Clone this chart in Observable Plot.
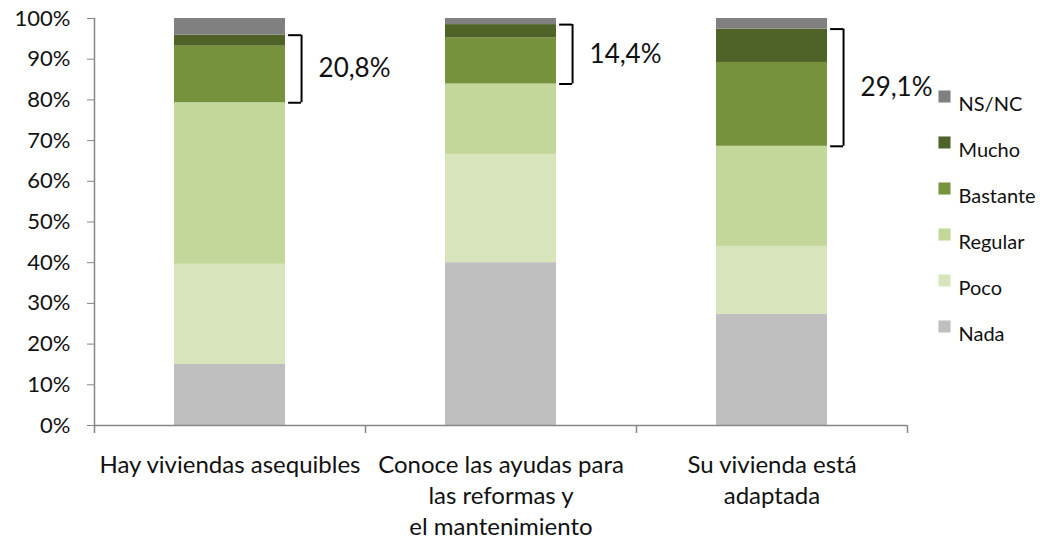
<!DOCTYPE html>
<html>
<head>
<meta charset="utf-8">
<script src="https://cdn.jsdelivr.net/npm/d3@7"></script>
<script src="https://cdn.jsdelivr.net/npm/@observablehq/plot@0.6"></script>
<style>
  body { margin: 0; background: #fff; }
  #chart svg { overflow: visible; display: block; }
</style>
</head>
<body>
<div id="chart"></div>
<script>
// ---- data ----
const categories = [
  "Hay viviendas asequibles",
  "Conoce las ayudas para\nlas reformas y\nel mantenimiento",
  "Su vivienda está\nadaptada"
];
const series = ["Nada", "Poco", "Regular", "Bastante", "Mucho", "NS/NC"];
const colors = ["#BFBFBF", "#D8E4BC", "#C4D79B", "#76923C", "#4F6228", "#808080"];
const nada     = [15.0, 40.0, 27.3];
const poco     = [24.6, 26.6, 16.7];
const regular  = [39.7, 17.3, 24.6];
const bastante = [13.9, 11.3, 20.6];
const mucho    = [ 2.7,  3.3,  8.2];
const nsnc     = [ 4.1,  1.5,  2.6];
const bracketLabels = ["20,8%", "14,4%", "29,1%"];
const yTicks = [0, 10, 20, 30, 40, 50, 60, 70, 80, 90, 100];

// ---- build table ----
const seriesValues = [nada, poco, regular, bastante, mucho, nsnc];
const rows = [];
categories.forEach((c, i) => {
  series.forEach((s, j) => rows.push({cat: c, series: s, value: seriesValues[j][i]}));
});
const brackets = categories.map((c, i) => {
  const low = nada[i] + poco[i] + regular[i];
  const high = low + bastante[i] + mucho[i];
  return {cat: c, low, high, mid: (low + high) / 2, label: bracketLabels[i]};
});
const bracketEnds = brackets.flatMap(b => [{cat: b.cat, v: b.low}, {cat: b.cat, v: b.high}]);

// ---- layout ----
const W = 1040, H = 541;
const mL = 94, mR = 133, mT = 18, mB = 116;
const padInner = 0.59, padOuter = padInner / 2;
const step = (W - mL - mR) / categories.length;
const bw = step * (1 - padInner);
const axisGray = "#868686";
const font = "Lato, 'Open Sans', sans-serif";

const legendMarks = [];
[...series].reverse().forEach((s, k) => {
  const dy = 78 + k * 46;
  legendMarks.push(Plot.dot([s], {
    frameAnchor: "top-right", dx: 944 - (W - mR), dy,
    symbol: "square", r: 6.8, fill: d => d
  }));
  legendMarks.push(Plot.text([s], {
    frameAnchor: "top-right", dx: 958 - (W - mR), dy,
    text: d => d, textAnchor: "start", fontSize: 20, fill: "#111"
  }));
});

const chart = Plot.plot({
  width: W, height: H,
  marginLeft: mL, marginRight: mR, marginTop: mT, marginBottom: mB,
  style: {fontFamily: font, background: "#fff", color: "#111"},
  x: {domain: categories, paddingInner: padInner, paddingOuter: padOuter, axis: null},
  y: {domain: [0, 100], axis: null},
  color: {domain: series, range: colors},
  marks: [
    Plot.barY(rows, {x: "cat", y: "value", fill: "series", order: series}),
    // axes lines
    Plot.ruleY([0], {stroke: axisGray, strokeWidth: 1.5}),
    Plot.ruleX([categories[0]], {x: d => d, dx: -step / 2, y1: 0, y2: 100, stroke: axisGray, strokeWidth: 1.5}),
    // category separator ticks
    Plot.ruleX(categories, {x: d => d, dx: -step / 2, y1: 0, y2: 0, insetBottom: -8, stroke: axisGray, strokeWidth: 1.5}),
    Plot.ruleX([categories[categories.length - 1]], {x: d => d, dx: step / 2, y1: 0, y2: 0, insetBottom: -8, stroke: axisGray, strokeWidth: 1.5}),
    Plot.axisY({ticks: yTicks, tickFormat: d => d + "%", tickSize: 7, tickPadding: 17,
      stroke: axisGray, fontSize: 22, fill: "#111"}),
    // category labels
    Plot.text(categories, {x: d => d, y: 0, text: d => d, lineAnchor: "top", dy: 25,
      fontSize: 24, lineHeight: 1.3, fill: "#111"}),
    // brackets
    Plot.ruleX(brackets, {x: "cat", y1: "low", y2: "high", dx: bw / 2 + 16, stroke: "#000", strokeWidth: 2}),
    Plot.tickY(bracketEnds, {x: "cat", y: "v", insetLeft: bw + 3, insetRight: -16, stroke: "#000", strokeWidth: 2}),
    Plot.text(brackets, {x: "cat", y: "mid", text: "label", textAnchor: "start", dx: bw / 2 + 33,
      fontSize: 26, fill: "#111"}),
    ...legendMarks
  ]
});
document.getElementById("chart").appendChild(chart);
</script>
</body>
</html>
